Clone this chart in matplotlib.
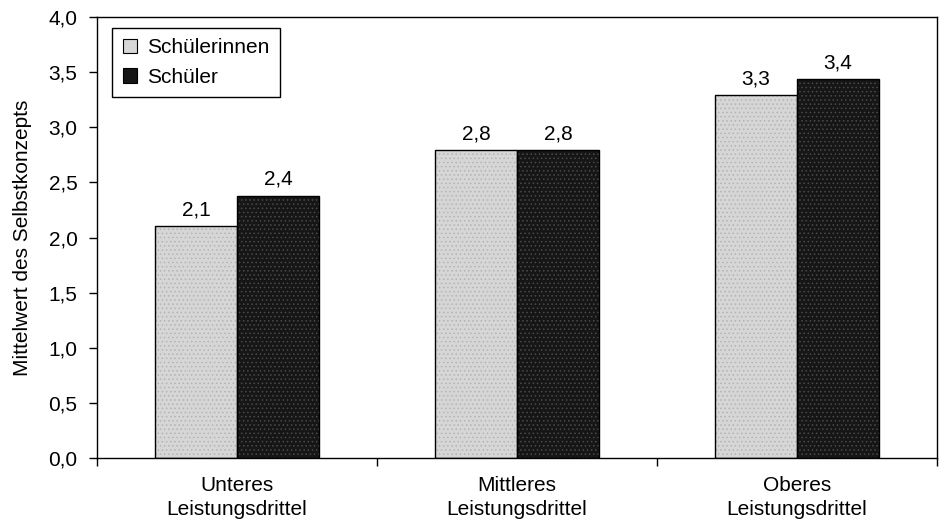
import matplotlib
matplotlib.use("Agg")
import matplotlib.pyplot as plt
from matplotlib.patches import Patch
import numpy as np

plt.rcParams['font.family'] = ['Liberation Sans', 'DejaVu Sans']
plt.rcParams['hatch.linewidth'] = 0.6

categories = ["Unteres\nLeistungsdrittel", "Mittleres\nLeistungsdrittel", "Oberes\nLeistungsdrittel"]
schuelerinnen = [2.10, 2.79, 3.29]
schueler = [2.38, 2.79, 3.44]
series_names = ["Schülerinnen", "Schüler"]
y_ticks = [0.0, 0.5, 1.0, 1.5, 2.0, 2.5, 3.0, 3.5, 4.0]


def de(v):
    return f"{v:.1f}".replace(".", ",")


FS = 15

fig = plt.figure(figsize=(9.4, 5.2), dpi=100)
ax = fig.add_axes([97 / 940, 62 / 520, 840 / 940, 441 / 520])

x = np.arange(len(categories)) + 0.5
w = 0.293
light, light_dots = "#d6d6d6", "#b4b4b4"
dark, dark_dots = "#161616", "#4a4a4a"

# stippled fills first, black outlines on top
for pos, vals, fc, dc in ((x - w / 2, schuelerinnen, light, light_dots),
                          (x + w / 2, schueler, dark, dark_dots)):
    ax.bar(pos, vals, w, facecolor=fc, edgecolor=dc, linewidth=0,
           hatch="....", zorder=2)
    bars = ax.bar(pos, vals, w, facecolor="none", edgecolor="black",
                  linewidth=1.0, zorder=3)
    for rect, v in zip(bars, vals):
        ax.text(rect.get_x() + rect.get_width() / 2, v + 0.06, de(v),
                ha="center", va="bottom", fontsize=FS)

ax.set_xlim(0, 3)
ax.set_ylim(0, 4.0)
ax.set_yticks(y_ticks)
ax.set_yticklabels([de(t) for t in y_ticks], fontsize=FS)

# ticks sit at the category boundaries, labels centred under each group
ax.set_xticks([0, 1, 2, 3])
ax.set_xticklabels([])
ax.set_xticks(x, minor=True)
ax.set_xticklabels(categories, minor=True, fontsize=FS, linespacing=1.3)
ax.tick_params(axis="x", which="minor", length=0, pad=13)
ax.tick_params(axis="x", which="major", direction="out", length=6, width=1)
ax.tick_params(axis="y", direction="out", length=6, width=1, pad=8)

for s in ax.spines.values():
    s.set_linewidth(1.0)

ax.set_ylabel("Mittelwert des Selbstkonzepts", fontsize=FS, labelpad=12)

handles = [Patch(facecolor=light, edgecolor="black", linewidth=0.8),
           Patch(facecolor=dark, edgecolor="black", linewidth=0.8)]
leg = ax.legend(handles, series_names, loc="upper left",
                bbox_to_anchor=(0.018, 0.975), borderaxespad=0, fontsize=FS,
                frameon=True, fancybox=False, edgecolor="black", framealpha=1,
                handlelength=0.7, handleheight=0.7, handletextpad=0.5,
                borderpad=0.5, labelspacing=0.5)
leg.get_frame().set_linewidth(1.0)

fig.savefig("out.png", dpi=100)
